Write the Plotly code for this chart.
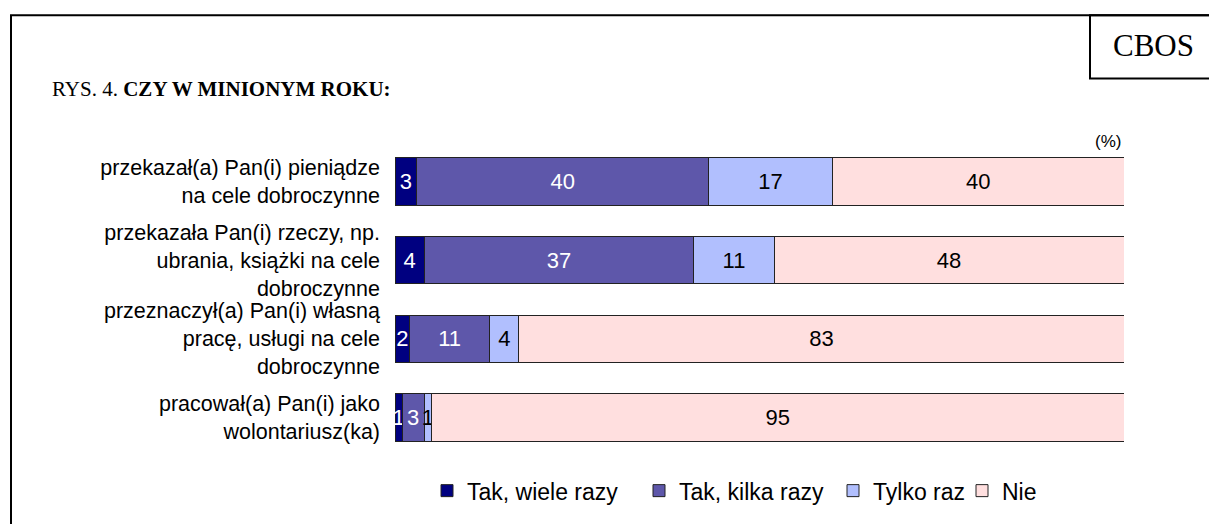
import plotly.graph_objects as go

categories = [
    "przekazał(a) Pan(i) pieniądze<br>na cele dobroczynne",
    "przekazała Pan(i) rzeczy, np.<br>ubrania, książki na cele<br>dobroczynne",
    "przeznaczył(a) Pan(i) własną<br>pracę, usługi na cele<br>dobroczynne",
    "pracował(a) Pan(i) jako<br>wolontariusz(ka)",
]
series_names = ["Tak, wiele razy", "Tak, kilka razy", "Tylko raz", "Nie"]
tak_wiele = [3, 4, 2, 1]
tak_kilka = [40, 37, 11, 3]
tylko_raz = [17, 11, 4, 1]
nie = [40, 48, 83, 95]
values = [tak_wiele, tak_kilka, tylko_raz, nie]

colors = ["#000080", "#5E57AA", "#B1BFFE", "#FFDFDF"]
text_colors = ["white", "white", "black", "black"]

SANS = "Arial, Liberation Sans, sans-serif"
SERIF = "Times New Roman, Liberation Serif, serif"

W, H = 1209, 524
L, R, T, B = 395, 85, 142, 64
PW, PH = W - L - R, H - T - B


def xp(px):
    return (px - L) / PW


def yp(py):
    return (H - B - py) / PH


fig = go.Figure()
legend_ids = ["legend", "legend2", "legend3", "legend4"]
for name, vals, col, tcol, lid in zip(series_names, values, colors, text_colors, legend_ids):
    fig.add_trace(go.Bar(
        y=categories, x=vals, name=name, orientation="h",
        marker=dict(color=col, line=dict(color="#222222", width=1)),
        text=[str(v) for v in vals], textposition="inside",
        insidetextanchor="middle", constraintext="none", textangle=0,
        insidetextfont=dict(family=SANS, size=22, color=tcol),
        legend=lid, showlegend=True,
    ))

legend_text_starts = [467, 679, 873, 1002]
leg_common = dict(orientation="h", yanchor="middle", xanchor="left",
                  font=dict(family=SANS, size=23, color="black"),
                  bgcolor="rgba(0,0,0,0)", borderwidth=0, itemwidth=30)
layout_legends = {}
for lid, ts in zip(legend_ids, legend_text_starts):
    layout_legends[lid] = dict(x=xp(ts - 40), y=yp(494), **leg_common)

fig.update_layout(
    width=W, height=H,
    margin=dict(l=L, r=R, t=T, b=B, pad=0),
    paper_bgcolor="white", plot_bgcolor="white",
    barmode="stack", bargap=0.396,
    xaxis=dict(range=[0, 100], visible=False, fixedrange=True),
    yaxis=dict(autorange="reversed", showgrid=False, zeroline=False, showline=False,
               ticks="", ticklabelstandoff=14,
               tickfont=dict(family=SANS, size=21.5, color="black")),
    font=dict(family=SANS, color="black"),
    shapes=[
        dict(type="rect", xref="paper", yref="paper",
             x0=xp(11), x1=xp(1216), y0=yp(530), y1=yp(14),
             line=dict(color="black", width=2), layer="below"),
        dict(type="rect", xref="paper", yref="paper",
             x0=xp(1090), x1=xp(1216), y0=yp(78), y1=yp(14),
             line=dict(color="black", width=2)),
    ],
    annotations=[
        dict(xref="paper", yref="paper", x=xp(50), y=yp(89), xanchor="left", yanchor="middle",
             text="RYS. 4. <b>CZY W MINIONYM ROKU:</b>", showarrow=False,
             font=dict(family=SERIF, size=21, color="black")),
        dict(xref="paper", yref="paper", x=xp(1153), y=yp(45), xanchor="center", yanchor="middle",
             text="CBOS", showarrow=False,
             font=dict(family=SERIF, size=31, color="black")),
        dict(xref="paper", yref="paper", x=xp(1123), y=yp(141), xanchor="right", yanchor="middle",
             text="(%)", showarrow=False,
             font=dict(family=SANS, size=17, color="black")),
    ],
    **layout_legends,
)

fig.write_html("out.html")
